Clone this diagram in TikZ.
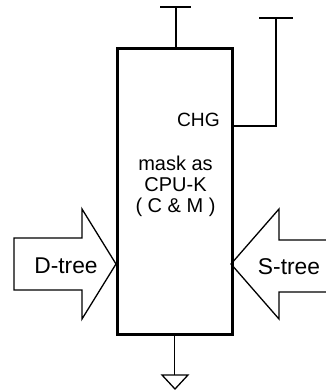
\documentclass[tikz,border=0pt]{standalone}
\usepackage{fontspec}
\setmainfont{Liberation Sans}
\begin{document}
\begin{tikzpicture}[x=1pt,y=-1pt,
  thin line/.style={line width=1.3pt, line join=miter},
  boxtext/.style={font=\fontsize{20}{21}\selectfont, inner sep=0pt},
  treetext/.style={font=\fontsize{22.8}{24}\selectfont, inner sep=0pt}]
\useasboundingbox (0,0) rectangle (325,392);
% main box
\node[draw, line width=3pt, minimum width=115pt, minimum height=286pt, inner sep=0pt, anchor=north west] (box) at (116,47) {};
% texts
\node[boxtext, font=\fontsize{19.2}{21}\selectfont, anchor=base east] (chg) at (220,126.5) {CHG};
\node[boxtext, anchor=base] (m1) at (175.5,170) {mask as};
\node[boxtext, anchor=base] (m2) at (175.5,191) {CPU-K};
\node[boxtext, anchor=base] (m3) at (175.5,212) {( C \& M )};
% top stub
\coordinate (t1) at (176,7);
\draw[thin line] (box.north -| t1) -- (t1);
\draw[thin line] ([xshift=-16pt]t1) -- ([xshift=15pt]t1);
% right wire
\coordinate (r1) at (276,126);
\coordinate (r2) at (276,18);
\draw[thin line] (box.east |- r1) -- (r1) -- (r2);
\draw[thin line] ([xshift=-17pt]r2) -- ([xshift=17pt]r2);
% ground
\coordinate (g1) at (174.5,375);
\draw[thin line] (box.south -| g1) -- (g1);
\draw[thin line] (162,375) -- (188,375) -- (175,389) -- cycle;
% D-tree arrow
\draw[thin line] (14,238) -- (82,238) -- (82,209) -- (116,264) -- (82,319) -- (82,290) -- (14,290) -- cycle;
\node[treetext, anchor=base] (dtree) at (66,273.5) {D-tree};
% S-tree arrow
\draw[thin line] (326,240) -- (279,240) -- (279,209) -- (231,264) -- (279,319) -- (279,292) -- (326,292);
\node[treetext, anchor=base] (stree) at (289,274) {S-tree};
\end{tikzpicture}
\end{document}
